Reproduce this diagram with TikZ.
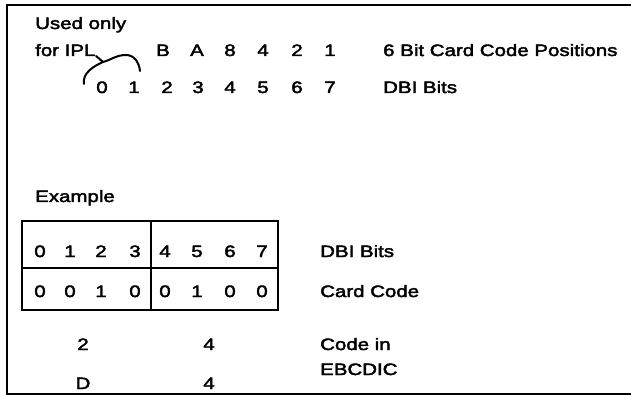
\documentclass[tikz,border=0pt]{standalone}
\usepackage{fontspec}
\setmainfont{Liberation Sans}[FakeStretch=1.24,FakeBold=2.5]
\usetikzlibrary{positioning}

\begin{document}
\begin{tikzpicture}[
  x=1pt, y=-1pt,
  font=\fontsize{16.5}{19}\selectfont,
  lbl/.style  ={anchor=base west, inner sep=0pt},
  bit/.style  ={anchor=base, inner sep=0pt},
  rule/.style ={line width=1.5pt},
  brace/.style={line width=2pt, line cap=round},
]
\useasboundingbox (0,0) rectangle (631,395);

% ---- frame (open on the right) ----
\draw[rule] (631,5) -- (7,5) -- (7,394) -- (631,394);

% ---- card code positions ----
\node[lbl] (used) at (35,29) {Used only};
\node[lbl] (ipl)  at (35,56) {for IPL};
\node[bit] (cB) at (163,56) {B};
\node[bit] (cA) at (197,56) {A};
\node[bit] (c8) at (230,56) {8};
\node[bit] (c4) at (263,56) {4};
\node[bit] (c2) at (297,56) {2};
\node[bit] (c1) at (330,56) {1};
\node[lbl] (cardpos) at (383,56) {6 Bit Card Code Positions};

% ---- DBI bits ----
\node[bit] (d0) at (102,93) {0};
\node[bit] (d1) at (134,93) {1};
\node[bit] (d2) at (167,93) {2};
\node[bit] (d3) at (198,93) {3};
\node[bit] (d4) at (230,93) {4};
\node[bit] (d5) at (263,93) {5};
\node[bit] (d6) at (297,93) {6};
\node[bit] (d7) at (330,93) {7};
\node[lbl] (dbitop) at (383,93) {DBI Bits};

% ---- hand drawn brace over bits 0 and 1 ----
\draw[brace] (96,56) -- (103,62);
\draw[brace] (84,84) .. controls (82,73) and (94,66) .. (103,62)
  .. controls (111,60) and (116,55) .. (126,55)
  .. controls (134,55) and (139,62) .. (140,71);

% ---- example ----
\node[lbl] (example) at (35,202) {Example};

\draw[rule] (22,221) rectangle (278,310);
\draw[rule] (22,268) -- (278,268);
\draw[rule] (151,221) -- (151,310);

\node[bit] (e0) at (40,257)  {0};
\node[bit] (e1) at (70,257)  {1};
\node[bit] (e2) at (101,257) {2};
\node[bit] (e3) at (135,257) {3};
\node[bit] (e4) at (165,257) {4};
\node[bit] (e5) at (197,257) {5};
\node[bit] (e6) at (230,257) {6};
\node[bit] (e7) at (262,257) {7};
\node[lbl] (dbi) at (320,257) {DBI Bits};

\node[bit] (v0) at (40,297)  {0};
\node[bit] (v1) at (70,297)  {0};
\node[bit] (v2) at (101,297) {1};
\node[bit] (v3) at (135,297) {0};
\node[bit] (v4) at (165,297) {0};
\node[bit] (v5) at (197,297) {1};
\node[bit] (v6) at (230,297) {0};
\node[bit] (v7) at (262,297) {0};
\node[lbl] (card) at (320,297) {Card Code};

% ---- EBCDIC result ----
\node[bit] (hexhi) at (83,350)  {2};
\node[bit] (hexlo) at (209,350) {4};
\node[bit] (chrhi) at (83,389)  {D};
\node[bit] (chrlo) at (209,389) {4};
\node[lbl] (codein) at (320,350) {Code in};
\node[lbl] (ebcdic) at (320,375) {EBCDIC};

\end{tikzpicture}
\end{document}
